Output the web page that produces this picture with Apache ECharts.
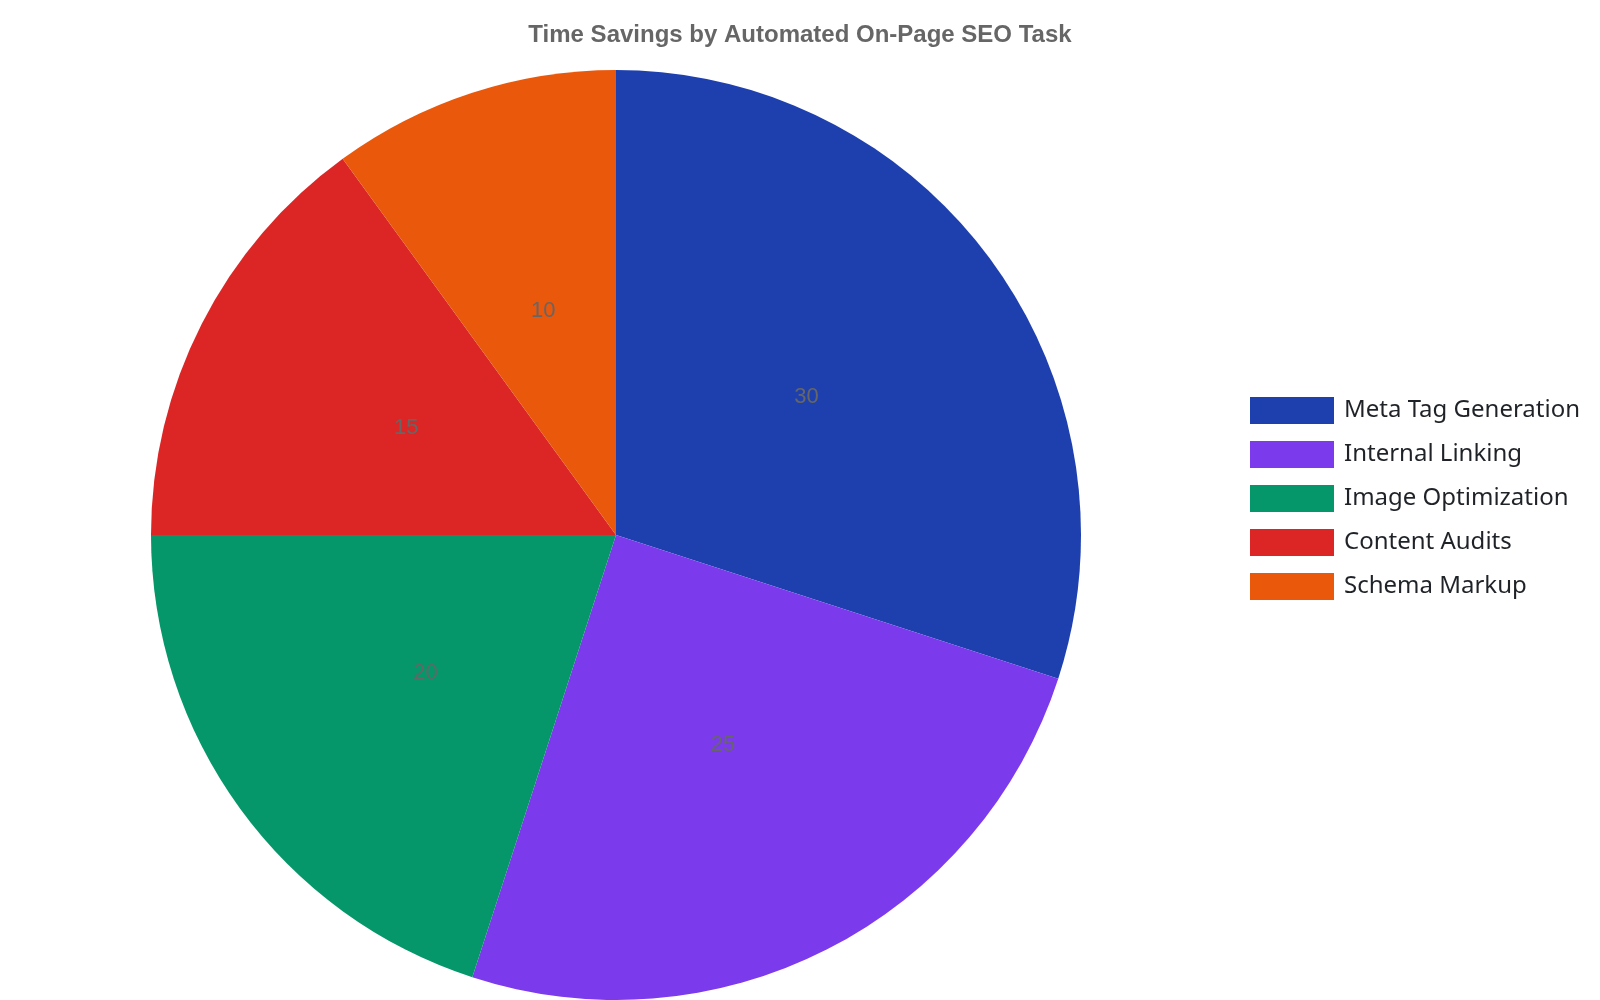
<!DOCTYPE html>
<html lang="en">
<head>
    <meta charset="UTF-8">
    <title>Time Savings by Automated On-Page SEO Task</title>
    <script src="https://cdn.jsdelivr.net/npm/echarts@6/dist/echarts.min.js"></script>
</head>
<style>
    *{
        margin: 0;
        padding: 0;
    }
    html,body{
        width: 100%;
        height: 100%;
        overflow: hidden;
        background: #fff;
    }
    .container{
        width: 1600px;
        height: 1000px;
    }
</style>
<body>
<div class="container"></div>
<script>
   let tasks = ['Meta Tag Generation', 'Internal Linking', 'Image Optimization', 'Content Audits', 'Schema Markup'];
   let hoursSaved = [30, 25, 20, 15, 10];
   let colors = ['#1e40af', '#7c3aed', '#059669', '#dc2626', '#ea580c'];

   let container = document.querySelector('.container');
   let mycharts = echarts.init(container);

   let pieData = tasks.map((name, i) => ({
       name,
       value: hoursSaved[i],
       itemStyle: {color: colors[i]}
   }));

   let options = {
       backgroundColor: '#ffffff',
       animation: false,
       title: {
           text: 'Time Savings by Automated On-Page SEO Task',
           left: 'center',
           top: 23,
           padding: 0,
           textStyle: {
               fontFamily: 'Liberation Sans, Arial, sans-serif',
               fontSize: 24,
               fontWeight: 'bold',
               color: '#666666'
           }
       },
       legend: {
           orient: 'vertical',
           left: 1250,
           top: 397,
           padding: 0,
           itemWidth: 84,
           itemHeight: 27,
           itemGap: 17,
           icon: 'rect',
           textStyle: {
               fontFamily: 'Noto Sans, sans-serif',
               fontSize: 24,
               color: '#1f2328',
               padding: [5, 0, 0, 5]
           },
           data: tasks
       },
       series: [{
           type: 'pie',
           center: [616, 535],
           radius: 465,
           startAngle: 90,
           clockwise: true,
           label: {
               show: true,
               position: 'inside',
               formatter: '{c}',
               fontFamily: 'Liberation Sans, Arial, sans-serif',
               fontSize: 22,
               color: '#666666',
               padding: [6, 0, 0, 0]
           },
           labelLine: {show: false},
           itemStyle: {borderWidth: 0},
           emphasis: {scale: false},
           data: pieData
       }]
   };

   mycharts.setOption(options);
</script>
</body>
</html>
